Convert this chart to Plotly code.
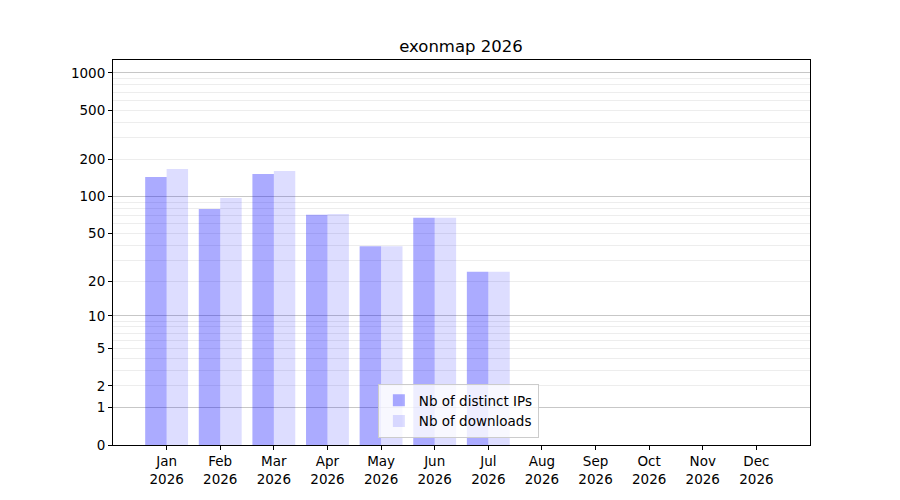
import numpy as np
import plotly.graph_objs as go

# Monthly stats for the package
months = ['Jan', 'Feb', 'Mar', 'Apr', 'May', 'Jun', 'Jul', 'Aug', 'Sep', 'Oct', 'Nov', 'Dec']
year = '2026'
distinct_ips = [144, 79, 152, 71, 39, 67, 24, 0, 0, 0, 0, 0]
downloads = [167, 97, 161, 72, 39, 67, 24, 0, 0, 0, 0, 0]

# tick labels of the y axis (symlog-like: log10(1 + n))
y_ticks = [0, 1, 2, 5, 10, 20, 50, 100, 200, 500, 1000]
major_grid = [1, 10, 100, 1000]
minor_grid = [m * 10 ** k for k in range(3) for m in range(2, 10)]

labels = [f'{m}<br>{year}' for m in months]
font = dict(family='DejaVu Sans', size=13.5, color='black')

fig = go.Figure()
fig.add_trace(go.Bar(x=labels, y=np.array(distinct_ips) + 1, name='Nb of distinct IPs',
                     marker=dict(color='rgba(0,0,255,0.33)', line=dict(width=0))))
fig.add_trace(go.Bar(x=labels, y=np.array(downloads) + 1, name='Nb of downloads',
                     marker=dict(color='rgba(0,0,255,0.135)', line=dict(width=0))))

log_range = [0, 3.105]

# the page body adds an 8px offset, so margins are shifted by that much
fig.update_layout(
    width=900, height=500,
    margin=dict(l=105, r=98, t=52, b=63),
    plot_bgcolor='white', paper_bgcolor='white',
    font=font,
    barmode='group', bargap=0.2, bargroupgap=0,
    title=dict(text='exonmap 2026', x=453 / 900, xanchor='center',
               y=1 - 38 / 500, yanchor='middle', yref='container',
               font=dict(family='DejaVu Sans', size=16.5, color='black')),
    legend=dict(x=0.38, y=0.018, xanchor='left', yanchor='bottom',
                bgcolor='rgba(255,255,255,0.8)', bordercolor='#cccccc', borderwidth=1,
                font=font, tracegroupgap=0),
    xaxis=dict(type='category', range=[-1, 12], showline=True, linecolor='black',
               linewidth=1, mirror=True, ticks='outside', ticklen=4, tickcolor='black',
               showgrid=False, tickfont=font),
    yaxis=dict(type='log', range=log_range, showline=True, linecolor='black',
               linewidth=1, mirror=True, ticks='outside', ticklen=4, tickcolor='black',
               tickvals=[v + 1 for v in y_ticks], ticktext=[str(v) for v in y_ticks],
               showgrid=False, zeroline=False, tickfont=font,
               minor=dict(tickmode='array', tickvals=[v + 1 for v in minor_grid],
                          showgrid=True, gridcolor='rgba(0,0,0,0.07)', gridwidth=1,
                          ticks='')),
    yaxis2=dict(type='log', range=log_range, overlaying='y', side='left',
                tickvals=[v + 1 for v in major_grid], showticklabels=False,
                ticks='', showline=False, showgrid=True, zeroline=False,
                gridcolor='rgba(0,0,0,0.22)', gridwidth=1),
)

# invisible trace so the overlaid axis (major grid) is drawn
fig.add_trace(go.Scatter(x=labels, y=[1] * len(labels), yaxis='y2', mode='markers',
                         marker=dict(opacity=0), showlegend=False, hoverinfo='skip'))

fig.write_html('out.html')
